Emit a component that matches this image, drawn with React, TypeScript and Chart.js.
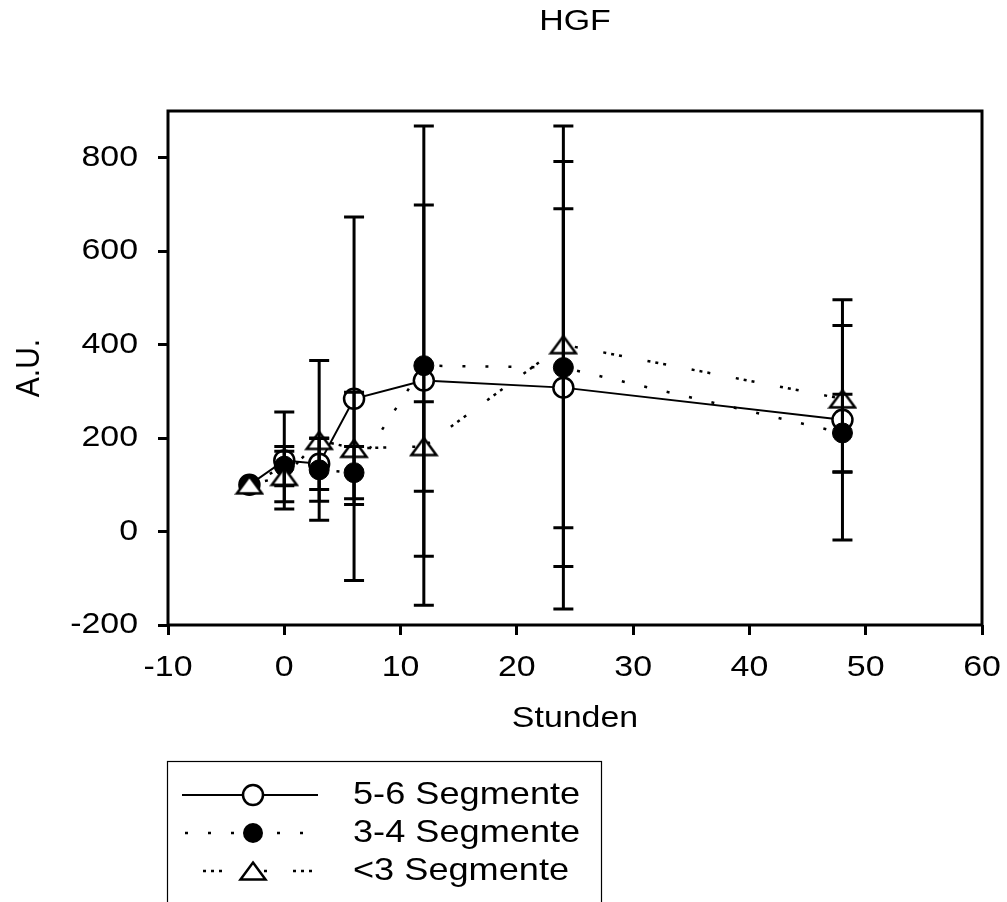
import React, { useEffect, useRef } from "react";
import { Chart, registerables } from "chart.js";

Chart.register(...registerables);

// ---- data ----
const chartTitle = "HGF";
const xTitle = "Stunden";
const yTitle = "A.U.";
const hours = [-3, 0, 3, 6, 12, 24, 48];
const seriesNames = ["5-6 Segmente", "3-4 Segmente", "<3 Segmente"];
const seg56 = [100, 152, 145, 284, 323, 308, 239];
const seg56Err = [0, 104, 55, 389, 376, 383, 257];
const seg34 = [100, 140, 132, 126, 355, 351, 211];
const seg34Err = [0, 42, 67, 56, 513, 517, 83];
const seg3 = [100, 118, 195, 178, 182, 400, 284];
const seg3Err = [0, 54, 171, 120, 96, 392, 157];
const xMin = -10;
const xMax = 60;
const xStep = 10;
const yMin = -200;
const yMax = 900;
const yStep = 200;

const FONT = "'Liberation Sans', Arial, Helvetica, sans-serif";
const TEXT_STRETCH = 1.13;
const DASH_DOT = [3, 20];
const DASH_TRI = [3, 5, 3, 5, 3, 26];

function makeTriangle(): HTMLCanvasElement {
  const c = document.createElement("canvas");
  c.width = 30;
  c.height = 24;
  const g = c.getContext("2d")!;
  g.beginPath();
  g.moveTo(15, 3.5);
  g.lineTo(27.5, 20.5);
  g.lineTo(2.5, 20.5);
  g.closePath();
  g.fillStyle = "#fff";
  g.fill();
  g.lineWidth = 2.5;
  g.strokeStyle = "#000";
  g.lineJoin = "miter";
  g.stroke();
  return c;
}

// widen glyphs horizontally (in device space) around the text anchor
function stretchText(ctx: any) {
  if (ctx.__stretched) return;
  ctx.__stretched = true;
  const orig = ctx.fillText.bind(ctx);
  ctx.fillText = (text: string, x: number, y: number, maxWidth?: number) => {
    const m = ctx.getTransform();
    const p = m.transformPoint(new DOMPoint(x, y));
    ctx.save();
    const s = new DOMMatrix()
      .translate(p.x, p.y)
      .scale(TEXT_STRETCH, 1)
      .translate(-p.x, -p.y)
      .multiply(m);
    ctx.setTransform(s);
    if (maxWidth === undefined) orig(text, x, y);
    else orig(text, x, y, maxWidth);
    ctx.restore();
  };
}

export default function App() {
  const ref = useRef<HTMLCanvasElement | null>(null);

  useEffect(() => {
    document.body.style.margin = "0";
    const tri = makeTriangle();
    const canvas = ref.current!;
    stretchText(canvas.getContext("2d"));

    const errorBars = {
      id: "errorBars",
      afterDatasetsDraw(chart: any) {
        const ctx = chart.ctx;
        const ys = chart.scales.y;
        ctx.save();
        ctx.strokeStyle = "#000";
        ctx.lineWidth = 3;
        ctx.setLineDash([]);
        chart.data.datasets.forEach((ds: any, i: number) => {
          const meta = chart.getDatasetMeta(i);
          ds.data.forEach((pt: any, j: number) => {
            const e = ds.errors[j];
            if (!e) return;
            const x = meta.data[j].x;
            const yt = ys.getPixelForValue(pt.y + e);
            const yb = ys.getPixelForValue(pt.y - e);
            ctx.beginPath();
            ctx.moveTo(x, yt);
            ctx.lineTo(x, yb);
            ctx.moveTo(x - 10, yt);
            ctx.lineTo(x + 10, yt);
            ctx.moveTo(x - 10, yb);
            ctx.lineTo(x + 10, yb);
            ctx.stroke();
          });
        });
        ctx.restore();
      },
    };

    const decor = {
      id: "decor",
      afterDraw(chart: any) {
        const ctx = chart.ctx;
        const a = chart.chartArea;
        ctx.save();
        // frame
        ctx.strokeStyle = "#000";
        ctx.lineWidth = 3;
        ctx.setLineDash([]);
        ctx.strokeRect(a.left, a.top, a.right - a.left, a.bottom - a.top);
        // title
        ctx.fillStyle = "#000";
        ctx.font = `30px ${FONT}`;
        ctx.textAlign = "center";
        ctx.textBaseline = "middle";
        ctx.fillText(chartTitle, (a.left + a.right) / 2, 22);
        // legend box
        ctx.lineWidth = 1.2;
        ctx.strokeRect(167.5, 761.5, 434, 200);
        const rows = [795, 833, 871];
        const lx0 = 182;
        const lx1 = 318;
        const mx = 253;
        // row 1
        ctx.lineWidth = 2;
        ctx.beginPath();
        ctx.moveTo(lx0, rows[0]);
        ctx.lineTo(lx1, rows[0]);
        ctx.stroke();
        ctx.beginPath();
        ctx.arc(mx, rows[0], 10, 0, Math.PI * 2);
        ctx.fillStyle = "#fff";
        ctx.fill();
        ctx.lineWidth = 2.5;
        ctx.stroke();
        // row 2
        ctx.lineWidth = 2.5;
        ctx.setLineDash(DASH_DOT);
        ctx.beginPath();
        ctx.moveTo(185, rows[1]);
        ctx.lineTo(lx1, rows[1]);
        ctx.stroke();
        ctx.setLineDash([]);
        ctx.beginPath();
        ctx.arc(mx, rows[1], 10, 0, Math.PI * 2);
        ctx.fillStyle = "#000";
        ctx.fill();
        // row 3
        ctx.setLineDash(DASH_TRI);
        ctx.beginPath();
        ctx.moveTo(203, rows[2]);
        ctx.lineTo(314, rows[2]);
        ctx.stroke();
        ctx.setLineDash([]);
        ctx.drawImage(tri, mx - tri.width / 2, rows[2] - tri.height / 2);
        // legend text
        ctx.fillStyle = "#000";
        ctx.font = `32px ${FONT}`;
        ctx.textAlign = "left";
        ctx.textBaseline = "middle";
        seriesNames.forEach((n, i) => ctx.fillText(n, 353, rows[i]));
        ctx.restore();
      },
    };

    const mk = (vals: number[]) => hours.map((h, i) => ({ x: h, y: vals[i] }));

    const chart = new Chart(canvas, {
      type: "line",
      data: {
        datasets: [
          {
            label: seriesNames[0],
            data: mk(seg56),
            errors: seg56Err,
            borderColor: "#000",
            borderWidth: 2,
            pointStyle: "circle",
            pointRadius: 10,
            pointBorderWidth: 2.5,
            pointBackgroundColor: "#fff",
            pointBorderColor: "#000",
            order: 3,
            tension: 0,
            fill: false,
          } as any,
          {
            label: seriesNames[1],
            data: mk(seg34),
            errors: seg34Err,
            borderColor: "#000",
            borderWidth: 2.5,
            borderDash: DASH_DOT,
            pointStyle: "circle",
            pointRadius: 10,
            pointBorderWidth: 1,
            pointBackgroundColor: "#000",
            pointBorderColor: "#000",
            order: 2,
            tension: 0,
            fill: false,
          } as any,
          {
            label: seriesNames[2],
            data: mk(seg3),
            errors: seg3Err,
            borderColor: "#000",
            borderWidth: 2.5,
            borderDash: DASH_TRI,
            pointStyle: tri,
            pointRadius: 12,
            order: 1,
            tension: 0,
            fill: false,
          } as any,
        ],
      },
      plugins: [errorBars, decor],
      options: {
        responsive: false,
        animation: false,
        devicePixelRatio: 1,
        events: [],
        layout: {
          autoPadding: false,
          padding: { top: 111, right: 25, left: 0, bottom: 0 },
        },
        plugins: {
          legend: { display: false },
          tooltip: { enabled: false },
          title: { display: false },
        },
        scales: {
          x: {
            type: "linear",
            min: xMin,
            max: xMax,
            border: { display: false },
            grid: {
              drawOnChartArea: false,
              drawTicks: true,
              tickLength: 10,
              tickWidth: 3,
              tickColor: "#000",
            },
            ticks: {
              stepSize: xStep,
              color: "#000",
              padding: 15,
              maxRotation: 0,
              font: { family: FONT, size: 30 },
            },
            title: {
              display: true,
              text: xTitle,
              color: "#000",
              font: { family: FONT, size: 30 },
              padding: { top: 0, bottom: 165 },
            },
            afterFit(scale: any) {
              scale.height = 277;
              scale.paddingLeft = 0;
              scale.paddingRight = 0;
            },
          },
          y: {
            type: "linear",
            min: yMin,
            max: yMax,
            border: { display: false },
            grid: {
              drawOnChartArea: false,
              drawTicks: true,
              tickLength: 10,
              tickWidth: 3,
              tickColor: "#000",
            },
            ticks: {
              stepSize: yStep,
              color: "#000",
              padding: 20,
              font: { family: FONT, size: 30 },
            },
            afterBuildTicks(scale: any) {
              scale.ticks = scale.ticks.filter(
                (t: any) => Math.abs(t.value % yStep) < 1e-9
              );
            },
            title: {
              display: true,
              text: yTitle,
              color: "#000",
              font: { family: FONT, size: 30 },
              padding: { top: 12, bottom: 0 },
            },
            afterFit(scale: any) {
              scale.width = 168;
              scale.paddingTop = 0;
              scale.paddingBottom = 0;
            },
          },
        },
      } as any,
    });
    return () => chart.destroy();
  }, []);

  return (
    <div style={{ width: 1007, height: 902 }}>
      <canvas ref={ref} width={1007} height={902} style={{ display: "block" }} />
    </div>
  );
}
